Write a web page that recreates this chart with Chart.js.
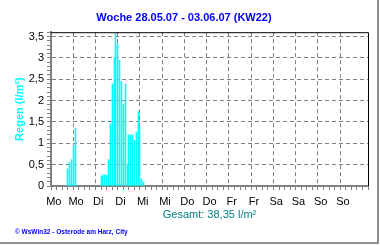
<!DOCTYPE html>
<html>
<head>
<meta charset="utf-8">
<script src="https://cdn.jsdelivr.net/npm/chart.js@4/dist/chart.umd.min.js"></script>
<style>
  html, body { margin: 0; padding: 0; background: #fff; }
  #wrap { width: 380px; height: 245px; }
</style>
</head>
<body>
<div id="wrap"><canvas id="rain" width="380" height="245"></canvas></div>
<script>
// week chart: hourly rain, WsWin32 style

const weekTitle = "Woche 28.05.07 - 03.06.07 (KW22)";
const yTitle = "Regen (l/m²)";
const dayLabels = ["Mo", "Mo", "Di", "Di", "Mi", "Mi", "Do", "Do", "Fr", "Fr", "Sa", "Sa", "So", "So"];
// hour of the week (0 = Monday 00:00) and rain in l/m² for that hour
const rainHours = [7, 8, 9, 10, 11,
  25, 26, 27, 28, 29, 30, 31, 32, 33, 34, 35, 36, 37, 38, 39, 40, 41, 42, 43, 44, 45, 46, 47, 48];
const rainValues = [0.40, 0.55, 0.62, 0.95, 1.35,
  0.22, 0.26, 0.26, 0.26, 0.62, 1.46, 2.39, 3.00, 3.60, 3.32, 2.95, 2.45, 1.92, 2.39, 0.50,
  1.20, 1.20, 1.20, 1.07, 1.27, 1.74, 1.40, 0.16, 0.09];
const totalText = "Gesamt: 38,35 l/m²";
const footerText = "© WsWin32 - Osterode am Harz, City";

const GRID = "#808080";
Chart.defaults.font.family = "'Liberation Sans', Arial, sans-serif";
Chart.defaults.font.size = 11;
Chart.defaults.color = "#000";

// snap the 1px bars onto whole pixels so they stay crisp
const crispBars = {
  id: "crispBars",
  afterDatasetsUpdate(chart) {
    chart.getDatasetMeta(0).data.forEach((el) => { el.x = Math.floor(el.x) + 0.5; });
  }
};

// black top/right frame of the plot, total line, footer and outer grey frame
const extras = {
  id: "extras",
  afterDraw(chart) {
    const { ctx, chartArea: a } = chart;
    ctx.save();
    ctx.strokeStyle = "#000";
    ctx.lineWidth = 1;
    ctx.beginPath();
    ctx.moveTo(a.left, a.top + 0.5);
    ctx.lineTo(a.right + 0.5, a.top + 0.5);
    ctx.lineTo(a.right + 0.5, a.bottom);
    ctx.stroke();

    ctx.fillStyle = "#008080";
    ctx.font = "11px 'Liberation Sans'";
    ctx.textAlign = "center";
    ctx.textBaseline = "alphabetic";
    ctx.fillText(totalText, (a.left + a.right) / 2, 218);

    ctx.fillStyle = "#0000ff";
    ctx.font = "bold 6.5px 'Liberation Sans'";
    ctx.textAlign = "left";
    ctx.fillText(footerText, 15, 234);

    ctx.strokeStyle = "#909090";
    ctx.lineWidth = 2;
    ctx.beginPath();
    ctx.moveTo(0, 243);
    ctx.lineTo(378, 243);
    ctx.lineTo(378, 0);
    ctx.stroke();
    ctx.restore();
  }
};

new Chart(document.getElementById("rain"), {
  type: "bar",
  data: {
    datasets: [{
      data: rainHours.map((h, i) => ({ x: h + 0.5, y: rainValues[i] })),
      backgroundColor: "#00ffff",
      borderWidth: 0,
      barThickness: 1
    }]
  },
  options: {
    responsive: false,
    animation: false,
    devicePixelRatio: 1,
    layout: { padding: { left: 0, right: 12, top: 0, bottom: 0 } },
    plugins: {
      legend: { display: false },
      tooltip: { enabled: false },
      title: {
        display: true, text: weekTitle, color: "#0000ff",
        font: { size: 11, weight: "bold" },
        padding: { top: 11, bottom: 8 }
      }
    },
    scales: {
      x: {
        type: "linear", min: 0, max: 168,
        afterFit: (s) => { s.height = 59; },
        ticks: {
          stepSize: 3, maxTicksLimit: 100, autoSkip: false, maxRotation: 0, padding: 5,
          callback: (v) => {
            const h = Math.round(v);
            return h % 12 === 0 && h < 168 ? dayLabels[h / 12] : "";
          }
        },
        grid: {
          tickLength: 4, tickColor: GRID,
          color: (c) => {
            const h = c.tick ? Math.round(c.tick.value) : 0;
            return h % 12 === 0 && h > 0 && h < 168 ? GRID : "transparent";
          }
        },
        border: { color: GRID, width: 2, dash: [4, 3] }
      },
      y: {
        min: 0, max: 3.6,
        afterFit: (s) => { s.width = 51; },
        title: {
          display: true, text: yTitle, color: "#00ffff",
          font: { size: 11, weight: "bold" },
          padding: { top: 13, bottom: 0 }
        },
        ticks: {
          stepSize: 0.1, maxTicksLimit: 100, autoSkip: false, padding: 3,
          callback: (v) => {
            const t = Math.round(v * 10);
            return t % 5 === 0 ? String(t / 10).replace(".", ",") : "";
          }
        },
        grid: {
          tickLength: 4, tickColor: GRID,
          color: (c) => {
            const t = c.tick ? Math.round(c.tick.value * 10) : 0;
            return t % 5 === 0 && t > 0 && t < 36 ? GRID : "transparent";
          }
        },
        border: { color: GRID, width: 2, dash: [4, 3] }
      }
    }
  },
  plugins: [crispBars, extras]
});
</script>
</body>
</html>
